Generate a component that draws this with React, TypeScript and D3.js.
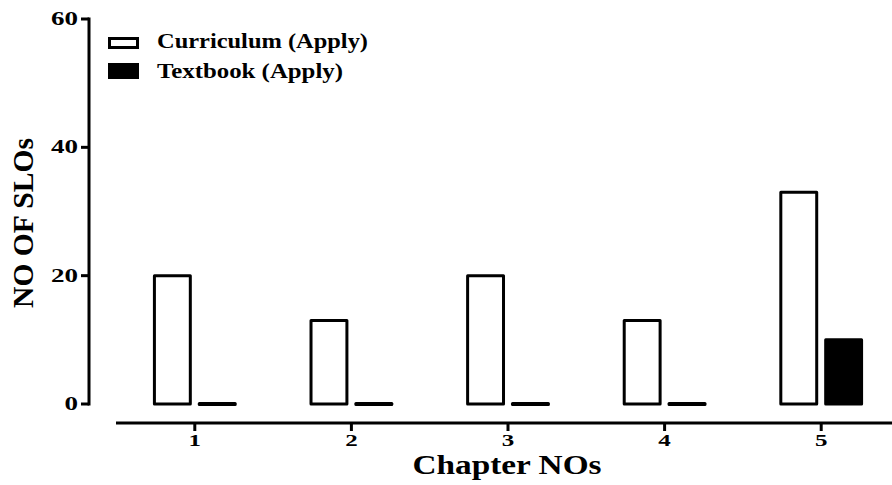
import React from "react";
import * as d3 from "d3";

const categories = ["1", "2", "3", "4", "5"];
const curriculum = [20, 13, 20, 13, 33];
const textbook = [0, 0, 0, 0, 10];
const yTicks = [0, 20, 40, 60];
const seriesNames = ["Curriculum (Apply)", "Textbook (Apply)"];

export default function App() {
  const W = 892, H = 485;
  const font = "'Liberation Serif', 'Times New Roman', serif";
  const y = d3.scaleLinear().domain([0, 60]).range([404, 19]);
  const x = d3.scaleBand().domain(categories).range([116.5, 899.5]);
  const xs = d3.scaleBand().domain(["c", "t"]).range([0, x.bandwidth()]).paddingInner(0.2).paddingOuter(0.845);
  const bw = xs.bandwidth();
  return (
    <svg width={W} height={H} style={{ position: "absolute", left: 0, top: 0 }} fontFamily={font} fontWeight="bold">
      {/* Y axis */}
      <line x1={89} x2={89} y1={y(60) - 1.5} y2={y(0) + 1.5} stroke="black" strokeWidth={3} />
      {yTicks.map((t) => (
        <g key={t}>
          <line x1={81} x2={89} y1={y(t)} y2={y(t)} stroke="black" strokeWidth={3} />
          <text x={78} y={y(t) + 6} textAnchor="end" fontSize={19}
            textLength={String(t).length * 13.5} lengthAdjust="spacingAndGlyphs">{t}</text>
        </g>
      ))}
      {/* X axis */}
      <line x1={116} x2={W} y1={423} y2={423} stroke="black" strokeWidth={3} />
      {categories.map((c) => (
        <g key={c}>
          <line x1={x(c)! + x.bandwidth() / 2} x2={x(c)! + x.bandwidth() / 2} y1={423} y2={431} stroke="black" strokeWidth={3} />
          <text x={x(c)! + x.bandwidth() / 2} y={445.5} textAnchor="middle" fontSize={16}
            textLength={12.5} lengthAdjust="spacingAndGlyphs">{c}</text>
        </g>
      ))}
      {/* Bars */}
      {categories.map((c, i) => (
        <g key={c}>
          <rect x={x(c)! + xs("c")!} y={y(curriculum[i])} width={bw} height={Math.max(0.5, y(0) - y(curriculum[i]))}
            fill="white" stroke="black" strokeWidth={3} strokeLinejoin="round" />
          <rect x={x(c)! + xs("t")!} y={y(textbook[i]) - (textbook[i] === 0 ? 0.5 : 0)} width={bw}
            height={Math.max(1, y(0) - y(textbook[i]))}
            fill="black" stroke="black" strokeWidth={3} strokeLinejoin="round" />
        </g>
      ))}
      {/* Legend */}
      <rect x={109.5} y={38.5} width={28} height={9} fill="white" stroke="black" strokeWidth={3} />
      <text x={157} y={48} fontSize={21} textLength={211} lengthAdjust="spacingAndGlyphs">{seriesNames[0]}</text>
      <rect x={109.5} y={64.5} width={28} height={13} fill="black" stroke="black" strokeWidth={3} />
      <text x={157} y={78} fontSize={21} textLength={186} lengthAdjust="spacingAndGlyphs">{seriesNames[1]}</text>
      {/* Axis titles */}
      <text transform="translate(33,223) rotate(-90)" textAnchor="middle" fontSize={30}
        textLength={170} lengthAdjust="spacingAndGlyphs">NO OF SLOs</text>
      <text x={507} y={473.5} textAnchor="middle" fontSize={27} textLength={189} lengthAdjust="spacingAndGlyphs">Chapter NOs</text>
    </svg>
  );
}
